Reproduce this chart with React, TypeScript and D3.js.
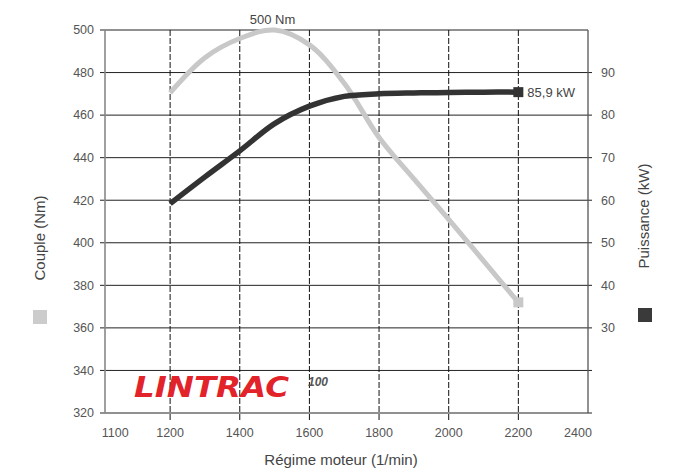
import React, { useEffect, useRef } from 'react';
import * as d3 from 'd3';

// engine speed (1/min)
const RPM = [1200, 1300, 1400, 1500, 1600, 1700, 1800, 1900, 2000, 2100, 2200];
// torque (Nm)
const TORQUE = [470.5, 487, 496, 500, 493, 475, 449.5, 430, 411, 391.5, 372];
// power (kW)
const POWER = [59.2, 65.5, 71.6, 78.0, 82.1, 84.4, 85.0, 85.2, 85.3, 85.4, 85.4];

const X_TICKS = [1100, 1200, 1400, 1600, 1800, 2000, 2200, 2400];
const X_GRID = [1200, 1400, 1600, 1800, 2000, 2200];
const NM_TICKS = [320, 340, 360, 380, 400, 420, 440, 460, 480, 500];
const KW_TICKS = [30, 40, 50, 60, 70, 80, 90];

const FONT = '"Liberation Sans", Arial, Helvetica, sans-serif';
const TORQUE_COLOR = '#c8c8c8';
const POWER_COLOR = '#333333';

export default function App() {
  const ref = useRef<SVGSVGElement>(null);

  useEffect(() => {
    const svgEl = ref.current;
    if (!svgEl) return;
    const svg = d3.select(svgEl);
    svg.selectAll('*').remove();

    const left = 105;
    const right = 588;
    const top = 30;
    const bottom = 413;

    const x = d3.scaleLinear().domain([1013, 2400]).range([left, right]);
    const yNm = d3.scaleLinear().domain([320, 500]).range([bottom, top]);
    const yKw = d3.scaleLinear().domain([10, 100]).range([bottom, top]);

    // horizontal grid (extends as ticks past both axes)
    svg
      .append('g')
      .selectAll('line')
      .data(NM_TICKS)
      .join('line')
      .attr('x1', left - 5)
      .attr('x2', (d) => (d === 500 ? right : right + 4))
      .attr('y1', (d) => yNm(d))
      .attr('y2', (d) => yNm(d))
      .attr('stroke', '#222')
      .attr('stroke-width', 1);

    // vertical dashed grid
    svg
      .append('g')
      .selectAll('line')
      .data(X_GRID)
      .join('line')
      .attr('x1', (d) => x(d))
      .attr('x2', (d) => x(d))
      .attr('y1', top)
      .attr('y2', bottom + 7)
      .attr('stroke', '#111')
      .attr('stroke-width', 1)
      .attr('stroke-dasharray', '6 2');

    // axes lines
    svg
      .append('line')
      .attr('x1', left)
      .attr('x2', left)
      .attr('y1', top)
      .attr('y2', bottom)
      .attr('stroke', '#888')
      .attr('stroke-width', 1.6);
    svg
      .append('line')
      .attr('x1', right)
      .attr('x2', right)
      .attr('y1', top)
      .attr('y2', bottom)
      .attr('stroke', '#555')
      .attr('stroke-width', 1.3);

    // left tick labels
    svg
      .append('g')
      .selectAll('text')
      .data(NM_TICKS)
      .join('text')
      .attr('x', 94)
      .attr('y', (d) => yNm(d))
      .attr('dy', '0.35em')
      .attr('text-anchor', 'end')
      .attr('font-family', FONT)
      .attr('font-size', 12.5)
      .attr('fill', '#555')
      .text((d) => d);

    // right tick labels
    svg
      .append('g')
      .selectAll('text')
      .data(KW_TICKS)
      .join('text')
      .attr('x', 601)
      .attr('y', (d) => yKw(d))
      .attr('dy', '0.35em')
      .attr('text-anchor', 'start')
      .attr('font-family', FONT)
      .attr('font-size', 12.5)
      .attr('fill', '#555')
      .text((d) => d);

    // bottom tick labels (end labels sit a bit inside in the original)
    svg
      .append('g')
      .selectAll('text')
      .data(X_TICKS)
      .join('text')
      .attr('x', (d, i) => x(d) + (i === 0 ? -20 : i === X_TICKS.length - 1 ? -10 : 0))
      .attr('y', 437)
      .attr('text-anchor', 'middle')
      .attr('font-family', FONT)
      .attr('font-size', 12.5)
      .attr('fill', '#555')
      .text((d) => d);

    // curves
    const torqueLine = d3
      .line<number>()
      .x((_, i) => x(RPM[i]))
      .y((d) => yNm(d))
      .curve(d3.curveCatmullRom.alpha(0.5));
    const powerLine = d3
      .line<number>()
      .x((_, i) => x(RPM[i]))
      .y((d) => yKw(d))
      .curve(d3.curveCatmullRom.alpha(0.5));

    svg
      .append('path')
      .attr('d', torqueLine(TORQUE))
      .attr('fill', 'none')
      .attr('stroke', TORQUE_COLOR)
      .attr('stroke-width', 5);
    svg
      .append('path')
      .attr('d', powerLine(POWER))
      .attr('fill', 'none')
      .attr('stroke', POWER_COLOR)
      .attr('stroke-width', 5.5);

    const last = RPM.length - 1;
    const sq = 10;
    svg
      .append('rect')
      .attr('x', x(RPM[last]) - sq / 2)
      .attr('y', yNm(TORQUE[last]) - sq / 2)
      .attr('width', sq)
      .attr('height', sq)
      .attr('fill', TORQUE_COLOR);
    svg
      .append('rect')
      .attr('x', x(RPM[last]) - sq / 2)
      .attr('y', yKw(POWER[last]) - sq / 2)
      .attr('width', sq)
      .attr('height', sq)
      .attr('fill', POWER_COLOR);

    // annotations
    const peakIdx = TORQUE.indexOf(d3.max(TORQUE) as number);
    svg
      .append('text')
      .attr('x', x(RPM[peakIdx]) - 2)
      .attr('y', yNm(TORQUE[peakIdx]) - 6)
      .attr('text-anchor', 'middle')
      .attr('font-family', FONT)
      .attr('font-size', 13)
      .attr('fill', '#444')
      .text('500 Nm');
    svg
      .append('text')
      .attr('x', x(RPM[last]) + 9)
      .attr('y', yKw(POWER[last]))
      .attr('dy', '0.35em')
      .attr('font-family', FONT)
      .attr('font-size', 13)
      .attr('fill', '#444')
      .text('85,9 kW');

    // axis titles
    svg
      .append('text')
      .attr('transform', 'translate(45,238) rotate(-90)')
      .attr('text-anchor', 'middle')
      .attr('font-family', FONT)
      .attr('font-size', 15)
      .attr('fill', '#444')
      .text('Couple (Nm)');
    svg.append('rect').attr('x', 33).attr('y', 310).attr('width', 14).attr('height', 14).attr('fill', '#cccccc');

    svg
      .append('text')
      .attr('transform', 'translate(649,216) rotate(-90)')
      .attr('text-anchor', 'middle')
      .attr('font-family', FONT)
      .attr('font-size', 15)
      .attr('fill', '#444')
      .text('Puissance (kW)');
    svg.append('rect').attr('x', 638).attr('y', 308).attr('width', 14).attr('height', 14).attr('fill', '#3a3a3a');

    svg
      .append('text')
      .attr('x', 341)
      .attr('y', 465)
      .attr('text-anchor', 'middle')
      .attr('font-family', FONT)
      .attr('font-size', 15)
      .attr('fill', '#444')
      .text('Régime moteur (1/min)');

    // logo
    svg
      .append('text')
      .attr('x', 134)
      .attr('y', 397)
      .attr('font-family', '"DejaVu Sans", sans-serif')
      .attr('font-weight', 'bold')
      .attr('font-style', 'italic')
      .attr('font-size', 28)
      .attr('textLength', 155)
      .attr('lengthAdjust', 'spacingAndGlyphs')
      .attr('fill', '#e2232a')
      .text('LINTRAC');
    svg
      .append('text')
      .attr('x', 308)
      .attr('y', 386)
      .attr('font-family', FONT)
      .attr('font-weight', 'bold')
      .attr('font-style', 'italic')
      .attr('font-size', 12)
      .attr('fill', '#555')
      .text('100');
  }, []);

  return (
    <svg
      ref={ref}
      width={675}
      height={472}
      style={{ position: 'absolute', left: 0, top: 0, background: '#fff' }}
    />
  );
}
